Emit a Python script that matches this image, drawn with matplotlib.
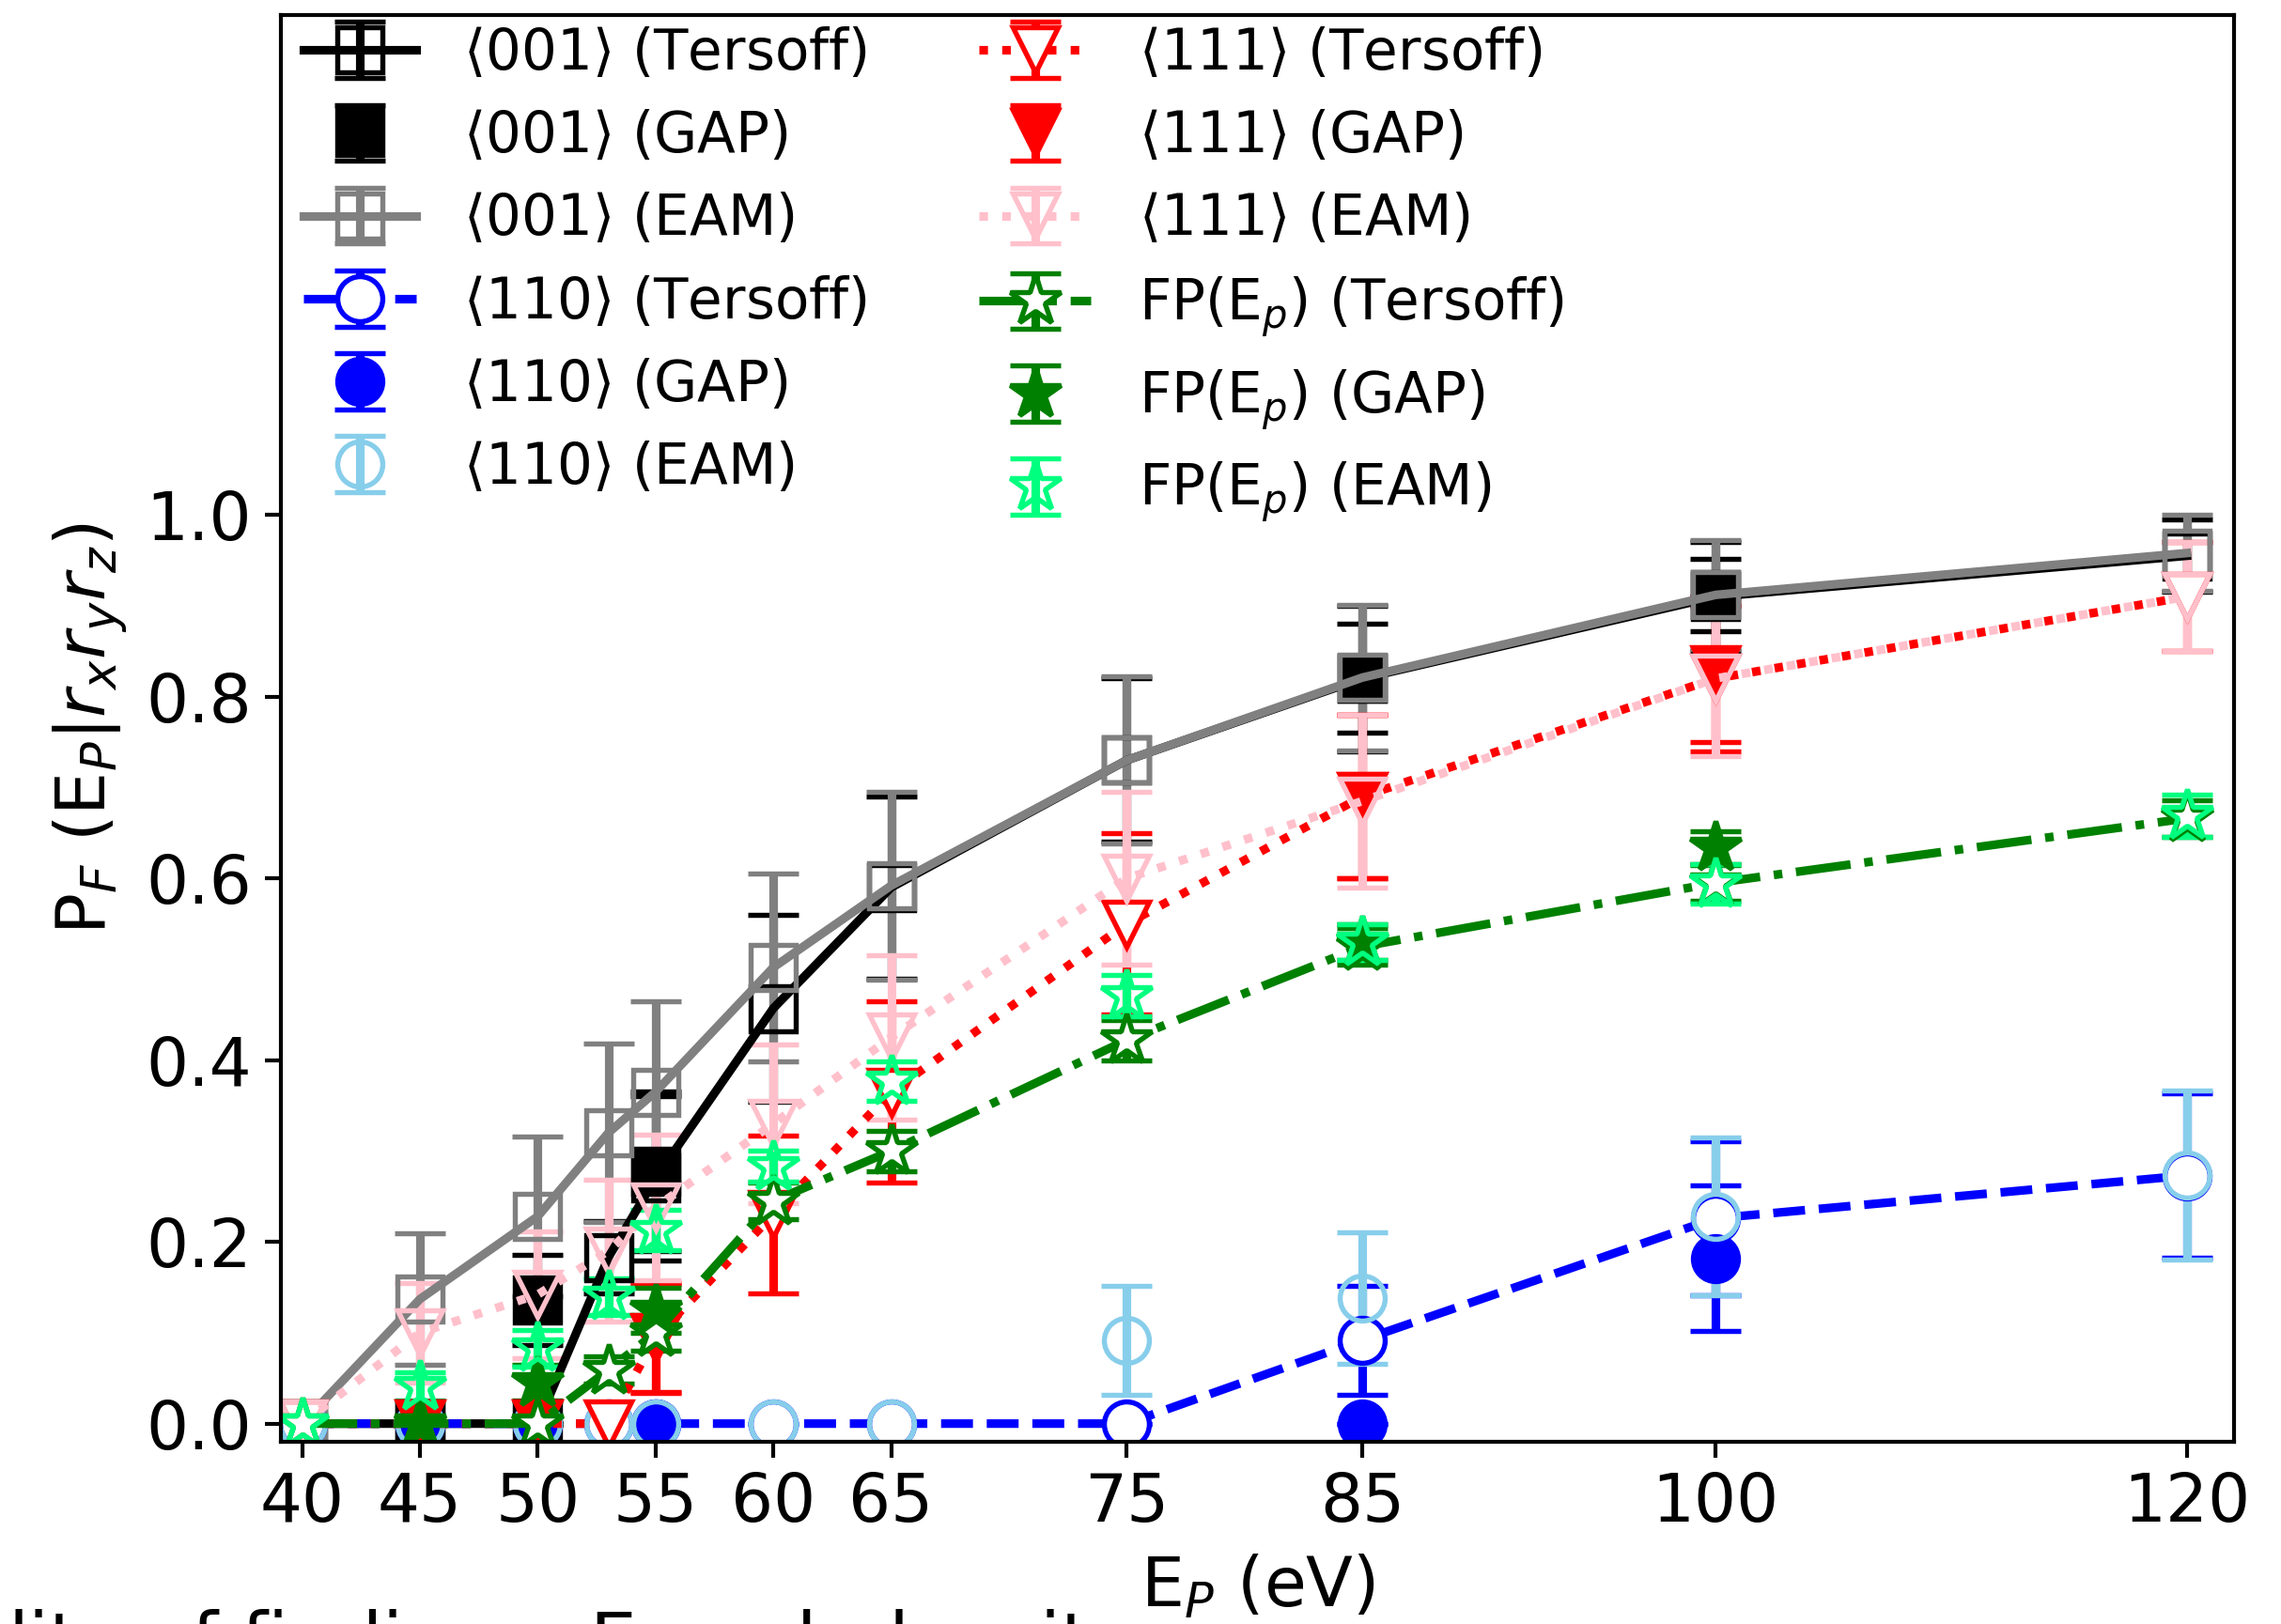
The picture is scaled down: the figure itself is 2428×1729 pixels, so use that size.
import matplotlib.pyplot as plt

OUT_FILE = 'out.png'

# incident energies (eV)
energy = [40, 45, 50, 53, 55, 60, 65, 75, 85, 100, 120]
energy_gap = [45, 50, 55, 85, 100]
xtick_vals = [40, 45, 50, 55, 60, 65, 75, 85, 100, 120]

# <001>
p001_tersoff = [0, 0, 0, 0.183, 0.27, 0.457, 0.59, 0.73, 0.82, 0.91, 0.955]
e001_tersoff = [0, 0, 0, 0.04, 0.09, 0.103, 0.1, 0.09, 0.08, 0.06, 0.04]
p001_gap = [0, 0.136, 0.278, 0.82, 0.912]
e001_gap = [0, 0.05, 0.088, 0.06, 0.04]
p001_eam = [0, 0.137, 0.228, 0.32, 0.365, 0.502, 0.592, 0.73, 0.821, 0.912, 0.958]
e001_eam = [0, 0.072, 0.088, 0.098, 0.1, 0.103, 0.103, 0.092, 0.08, 0.06, 0.042]

# <110>
p110_tersoff = [0, 0, 0, 0, 0, 0, 0, 0, 0.092, 0.226, 0.273]
e110_tersoff = [0, 0, 0, 0, 0, 0, 0, 0, 0.06, 0.085, 0.09]
p110_gap = [0, 0, 0, 0, 0.182]
e110_gap = [0, 0, 0, 0, 0.08]
p110_eam = [0, 0, 0, 0, 0, 0, 0, 0.092, 0.138, 0.228, 0.274]
e110_eam = [0, 0, 0, 0, 0, 0, 0, 0.06, 0.072, 0.087, 0.093]

# <111>
p111_tersoff = [0, 0, 0, 0, 0.095, 0.23, 0.365, 0.55, 0.69, 0.82, 0.91]
e111_tersoff = [0, 0, 0, 0, 0.06, 0.087, 0.1, 0.1, 0.09, 0.08, 0.06]
p111_gap = [0, 0, 0.094, 0.69, 0.83]
e111_gap = [0, 0, 0.06, 0.09, 0.08]
p111_eam = [0, 0.10, 0.142, 0.19, 0.238, 0.33, 0.425, 0.60, 0.685, 0.82, 0.91]
e111_eam = [0, 0.055, 0.07, 0.078, 0.08, 0.087, 0.09, 0.095, 0.095, 0.085, 0.06]

# FP(Ep)
pfp_tersoff = [0, 0, 0, 0.059, 0.10, 0.245, 0.30, 0.422, 0.525, 0.595, 0.666]
efp_tersoff = [0, 0, 0, 0.015, 0.02, 0.02, 0.022, 0.022, 0.02, 0.02, 0.02]
pfp_gap = [0, 0.045, 0.125, 0.53, 0.634]
efp_gap = [0, 0.02, 0.025, 0.02, 0.018]
pfp_eam = [0, 0.041, 0.083, 0.14, 0.213, 0.283, 0.377, 0.471, 0.53, 0.594, 0.669]
efp_eam = [0, 0.015, 0.02, 0.02, 0.022, 0.017, 0.022, 0.023, 0.02, 0.022, 0.023]

TICK_FS = 17
LABEL_FS = 17.5
LEG_FS = 14.3


def draw(ax, x, y, err, color, marker, face, ls, label):
    ms = 13.5 if marker == '*' else 11.5
    ax.errorbar(x, y, yerr=err, color=color, marker=marker, ms=ms,
                mfc=face, mec=color, mew=1.3, ls=ls, lw=2.2,
                elinewidth=2.2, capsize=6.5, capthick=1.2, label=label)


fig = plt.figure(figsize=(2429 / 300, 1729 / 300), dpi=300)
ax = fig.add_axes([0.1231, 0.1122, 0.8559, 0.8785])

draw(ax, energy, p001_tersoff, e001_tersoff, 'black', 's', 'none', '-', r'$\langle$001$\rangle$ (Tersoff)')
draw(ax, energy_gap, p001_gap, e001_gap, 'black', 's', 'black', 'none', r'$\langle$001$\rangle$ (GAP)')
draw(ax, energy, p001_eam, e001_eam, 'gray', 's', 'none', '-', r'$\langle$001$\rangle$ (EAM)')
draw(ax, energy, p110_tersoff, e110_tersoff, 'blue', 'o', 'white', '--', r'$\langle$110$\rangle$ (Tersoff)')
draw(ax, energy_gap, p110_gap, e110_gap, 'blue', 'o', 'blue', 'none', r'$\langle$110$\rangle$ (GAP)')
draw(ax, energy, p110_eam, e110_eam, 'skyblue', 'o', 'none', 'none', r'$\langle$110$\rangle$ (EAM)')
draw(ax, energy, p111_tersoff, e111_tersoff, 'red', 'v', 'white', ':', r'$\langle$111$\rangle$ (Tersoff)')
draw(ax, energy_gap, p111_gap, e111_gap, 'red', 'v', 'red', 'none', r'$\langle$111$\rangle$ (GAP)')
draw(ax, energy, p111_eam, e111_eam, 'pink', 'v', 'none', ':', r'$\langle$111$\rangle$ (EAM)')
draw(ax, energy, pfp_tersoff, efp_tersoff, 'green', '*', 'white', '-.', r'FP(E$_p$) (Tersoff)')
draw(ax, energy_gap, pfp_gap, efp_gap, 'green', '*', 'green', 'none', r'FP(E$_p$) (GAP)')
draw(ax, energy, pfp_eam, efp_eam, 'springgreen', '*', 'none', 'none', r'FP(E$_p$) (EAM)')

ax.set_xlim(39.1, 122)
ax.set_ylim(-0.02, 1.55)
ax.set_xticks(xtick_vals)
ax.set_yticks([0.0, 0.2, 0.4, 0.6, 0.8, 1.0])
ax.tick_params(labelsize=TICK_FS, width=1.0, length=4)
for sp in ax.spines.values():
    sp.set_linewidth(1.0)
ax.set_xlabel(r'E$_P$ (eV)', fontsize=LABEL_FS, labelpad=4.5)
ax.set_ylabel(r'P$_F$ (E$_P$|$r_xr_yr_z$)', fontsize=LABEL_FS)

ax.legend(ncol=2, loc='upper left', frameon=False, fontsize=LEG_FS,
          labelspacing=0.49, borderaxespad=0.0, borderpad=0.2,
          handletextpad=0.85, bbox_to_anchor=(0.006, 1.0))

# caption of the page below, cut by the crop
fig.text(8 / 2429, -44 / 1729, r'lity of finding a E$_p$ or below it',
         fontsize=19, va='baseline', ha='left')

fig.savefig(OUT_FILE, dpi=300)
